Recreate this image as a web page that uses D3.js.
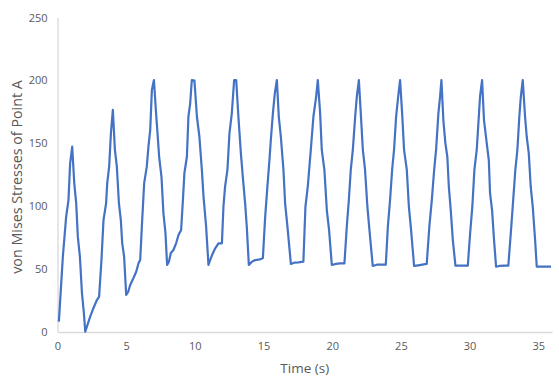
<!DOCTYPE html>
<html>
<head>
<meta charset="utf-8">
<script src="https://cdn.jsdelivr.net/npm/d3@7"></script>
<style>
  html, body { margin: 0; padding: 0; background: #fff; }
  svg { display: block; }
  text { font-family: "Open Sans", "Noto Sans", sans-serif; }
</style>
</head>
<body>
<svg id="chart" width="559" height="384"></svg>
<script>
// Time (s)
const times = [
  0.1, 0.39, 0.63, 0.80, 0.92, 1.07, 1.22, 1.36, 1.48, 1.63, 1.78, 1.92, 2.02, 2.26, 2.38, 2.62, 2.87, 3.03,
  3.20, 3.35, 3.54, 3.62, 3.76, 3.89, 4.03, 4.18, 4.32, 4.47, 4.61, 4.71, 4.85, 5.00, 5.15, 5.29, 5.53, 5.73,
  5.90, 6.02, 6.14, 6.31, 6.50, 6.62, 6.75, 6.87, 7.02, 7.16, 7.28, 7.40, 7.57, 7.71, 7.86, 7.98, 8.11, 8.25,
  8.44, 8.64, 8.81, 9.00, 9.13, 9.24, 9.42, 9.53, 9.66, 9.78, 9.97, 10.15, 10.33, 10.51, 10.63, 10.82, 10.99,
  11.11, 11.31, 11.48, 11.72, 11.97, 12.08, 12.20, 12.37, 12.52, 12.69, 12.86, 13.01, 13.17, 13.35, 13.49,
  13.66, 13.78, 13.93, 14.15, 14.39, 14.75, 14.95, 15.12, 15.28, 15.43, 15.53, 15.68, 15.82, 15.97, 16.11,
  16.26, 16.45, 16.57, 16.74, 16.99, 17.23, 17.54, 17.90, 18.05, 18.22, 18.44, 18.63, 18.83, 18.95, 19.12,
  19.24, 19.43, 19.61, 19.77, 19.97, 20.28, 20.57, 20.89, 21.06, 21.21, 21.35, 21.50, 21.67, 21.79, 21.94,
  22.08, 22.23, 22.39, 22.56, 22.71, 22.95, 23.25, 23.61, 23.90, 24.05, 24.21, 24.36, 24.50, 24.65, 24.80,
  24.94, 25.09, 25.23, 25.43, 25.58, 25.74, 25.96, 26.27, 26.56, 26.88, 27.07, 27.25, 27.42, 27.56, 27.73,
  27.85, 27.95, 28.09, 28.24, 28.38, 28.49, 28.63, 28.78, 28.97, 29.31, 29.87, 30.04, 30.20, 30.35, 30.52,
  30.67, 30.76, 30.91, 31.05, 31.25, 31.40, 31.49, 31.64, 31.78, 31.93, 32.17, 32.51, 32.82, 33.00, 33.14,
  33.33, 33.48, 33.62, 33.73, 33.87, 34.04, 34.16, 34.31, 34.45, 34.60, 34.77, 34.89, 35.37, 35.93
];
// von Mises stress
const stresses = [
  8.2, 59.9, 91.7, 104.9, 134.3, 147.3, 118.4, 102.5, 75.8, 59.9, 31.0, 15.1, 0.2, 8.2, 12.2, 19.1, 25.4, 28.1,
  57.2, 89.0, 102.5, 118.4, 131.4, 158.2, 176.5, 144.7, 131.4, 102.5, 89.0, 70.7, 59.9, 29.4, 32.0, 37.4, 42.9, 47.9,
  54.8, 57.2, 83.7, 118.4, 131.4, 147.3, 160.6, 192.4, 200.3, 176.5, 158.2, 139.3, 123.4, 94.6, 78.7, 53.3, 55.9, 62.8,
  65.2, 70.7, 77.1, 81.1, 104.9, 126.4, 139.3, 171.1, 181.8, 200.3, 199.8, 171.1, 155.2, 128.8, 107.6, 83.7, 53.3,
  57.2, 62.6, 66.5, 70.5, 70.5, 99.6, 115.5, 128.8, 158.0, 173.8, 200.3, 200.3, 171.1, 142.0, 123.4,
  102.3, 83.7, 53.3, 55.9, 57.2, 57.8, 58.6, 91.7, 115.5, 136.7, 152.6, 173.8, 189.7, 200.3, 171.1,
  155.2, 128.8, 102.3, 83.7, 54.1, 55.1, 55.4, 55.9, 99.6, 115.5, 144.7, 171.1, 187.0, 200.3, 173.8,
  144.7, 128.8, 96.5, 81.1, 53.3, 54.1, 54.6, 54.6, 83.7, 104.9, 128.8, 144.7, 171.1, 187.0, 200.3,
  173.8, 144.7, 128.8, 99.6, 81.1, 52.5, 53.5, 53.5, 53.5, 83.7, 104.9, 128.8, 144.7, 171.1, 187.0,
  200.3, 173.8, 144.7, 128.8, 99.6, 81.1, 52.5, 53.0, 53.5, 54.1, 83.7, 104.9, 128.8, 144.7, 173.8,
  187.0, 200.3, 168.5, 150.0, 139.3, 115.5, 96.5, 73.1, 52.7, 52.7, 52.7, 78.5, 99.6, 128.8, 144.7,
  171.1, 187.0, 200.3, 168.5, 150.0, 136.7, 110.3, 96.5, 73.1, 51.9, 52.5, 52.7, 52.7, 78.5, 99.6,
  128.8, 144.7, 171.1, 187.0, 200.3, 171.1, 155.2, 142.0, 115.5, 99.6, 73.1, 51.9, 51.9, 51.9
];
const xTicks = [0, 5, 10, 15, 20, 25, 30, 35];
const yTicks = [0, 50, 100, 150, 200, 250];
const xTitle = "Time (s)";
const yTitle = "von Mises Stresses of Point A";

const data = times.map((t, i) => ({ t, v: stresses[i] }));

const svg = d3.select("#chart");
const mLeft = 57.5, mRight = 552, mTop = 17.5, mBottom = 332;

const x = d3.scaleLinear().domain([0, 36]).range([mLeft, mRight]);
const y = d3.scaleLinear().domain([0, 250]).range([mBottom, mTop]);

const axisColor = "#d9d9d9";
const labelColor = "#595959";
const fontFam = '"Open Sans", "Noto Sans", sans-serif';

// X axis
const gx = svg.append("g").attr("transform", `translate(0,${mBottom})`)
  .call(d3.axisBottom(x).tickValues(xTicks).tickSize(0).tickPadding(10).tickFormat(d3.format("d")));
gx.select(".domain").attr("stroke", axisColor).attr("stroke-width", 1.3);
gx.selectAll("text").attr("fill", labelColor).style("font-size", "11px").style("font-family", fontFam);

// Y axis
const gy = svg.append("g").attr("transform", `translate(${mLeft},0)`)
  .call(d3.axisLeft(y).tickValues(yTicks).tickSize(0).tickPadding(10).tickFormat(d3.format("d")));
gy.select(".domain").attr("stroke", axisColor).attr("stroke-width", 1.3);
gy.selectAll("text").attr("fill", labelColor).style("font-size", "11px").style("font-family", fontFam);

// Line
const line = d3.line().x(d => x(d.t)).y(d => y(d.v));
svg.append("path").datum(data)
  .attr("fill", "none").attr("stroke", "#4472C4").attr("stroke-width", 2.2)
  .attr("stroke-linejoin", "round").attr("d", line);

// Titles
svg.append("text").attr("x", (mLeft + mRight) / 2).attr("y", 373)
  .attr("text-anchor", "middle").attr("fill", labelColor)
  .style("font-size", "13.5px").text(xTitle);

svg.append("text").attr("transform", `translate(22,177) rotate(-90)`)
  .attr("text-anchor", "middle").attr("fill", labelColor)
  .style("font-size", "14.3px").text(yTitle);
</script>
</body>
</html>
